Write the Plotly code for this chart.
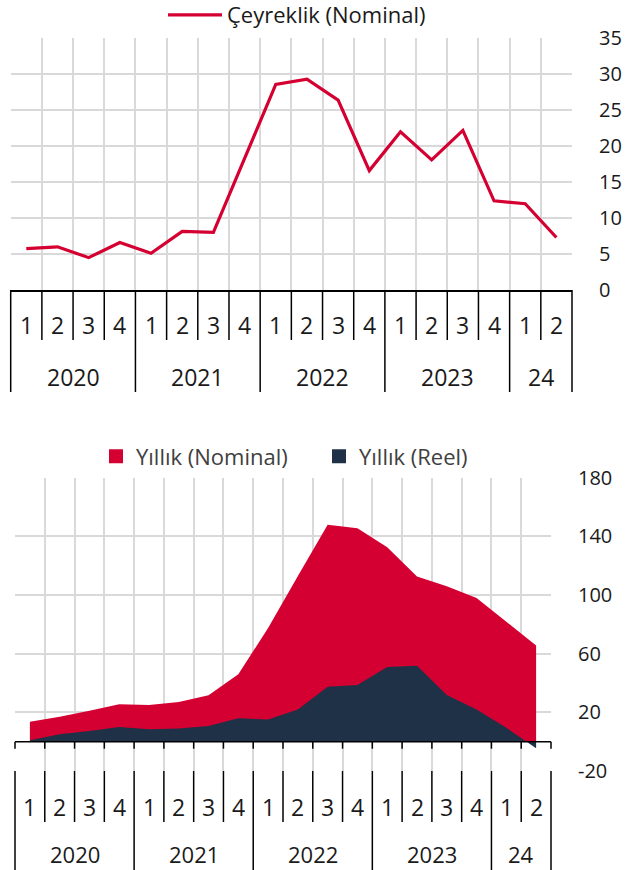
import plotly.graph_objects as go

W, H = 636, 870

# ---------------- data ----------------
years = ["2020", "2021", "2022", "2023", "24"]
quarters_per_year = [4, 4, 4, 4, 2]
quarter_labels = ["1", "2", "3", "4", "1", "2", "3", "4", "1", "2", "3", "4",
                  "1", "2", "3", "4", "1", "2"]
categories = []
_k = 0
for _y, _c in zip(years, quarters_per_year):
    for _j in range(_c):
        categories.append(f"{_y}-{quarter_labels[_k]}")
        _k += 1

ceyreklik_nominal = [5.75, 6.0, 4.5, 6.6, 5.1, 8.15, 8.0, 18.3, 28.6, 29.3,
                     26.4, 16.6, 22.0, 18.1, 22.2, 12.4, 12.0, 7.3]
yillik_nominal = [13.6, 17.0, 21.0, 25.5, 25.0, 27.0, 31.6, 46.0, 77.5, 113.0,
                  148.0, 145.5, 132.5, 112.7, 106.0, 98.0, 81.8, 65.5]
yillik_reel = [1.0, 5.0, 7.3, 10.0, 8.4, 8.9, 10.7, 15.9, 15.2, 22.0,
               37.5, 38.6, 51.0, 51.8, 31.8, 22.0, 9.5, -4.5]

top_ticks = [0, 5, 10, 15, 20, 25, 30, 35]
bottom_ticks = [-20, 20, 60, 100, 140, 180]
bottom_ticktext = ["-20", "20", "60", "100", "140", "180"]

# ---------------- style ----------------
RED = "#D50032"
NAVY = "#1E3146"
GRID = "#D9D9D9"
TXT = "#1A1A1A"
FONT = "Open Sans"


def py(p):
    return 1 - p / H


def px(p):
    return p / W


n = len(categories)

fig = go.Figure()

fig.add_trace(go.Scatter(
    x=categories, y=ceyreklik_nominal, mode="lines",
    line=dict(color=RED, width=3.2), name="Çeyreklik (Nominal)",
    xaxis="x", yaxis="y", legend="legend"))

fig.add_trace(go.Scatter(
    x=categories, y=yillik_nominal, mode="none", fill="tozeroy",
    fillcolor=RED, name="Yıllık (Nominal)", showlegend=False,
    xaxis="x2", yaxis="y2"))
fig.add_trace(go.Scatter(
    x=categories, y=yillik_reel, mode="none", fill="tozeroy",
    fillcolor=NAVY, name="Yıllık (Reel)", showlegend=False,
    xaxis="x2", yaxis="y2"))

# legend proxies (square swatches)
for nm, col in [("Yıllık (Nominal)", RED), ("Yıllık (Reel)", NAVY)]:
    fig.add_trace(go.Scatter(
        x=[None], y=[None], mode="markers",
        marker=dict(symbol="square", size=14, color=col),
        name=nm, xaxis="x2", yaxis="y2", legend="legend2"))

common_x = dict(type="category", range=[-0.5, n - 0.5], tickson="boundaries",
                showgrid=True, gridcolor=GRID, gridwidth=1.5,
                showticklabels=False, ticks="", zeroline=False, automargin=False,
                categoryorder="array", categoryarray=categories)

fig.update_layout(
    template="none",
    width=W, height=H,
    margin=dict(l=0, r=0, t=0, b=0, pad=0, autoexpand=False),
    paper_bgcolor="white", plot_bgcolor="white",
    font=dict(family=FONT, color=TXT),
    xaxis=dict(domain=[px(10.7), px(572)], anchor="y",
               showline=True, linecolor="black", linewidth=1.5, **common_x),
    yaxis=dict(domain=[py(290), py(38.3)], anchor="x", side="right",
               range=[0, 35], tickvals=top_ticks, showgrid=True,
               gridcolor=GRID, gridwidth=1.5, zeroline=False, showline=False,
               automargin=False,
               ticks="outside", ticklen=22, tickcolor="rgba(0,0,0,0)",
               tickfont=dict(size=20, color=TXT, family=FONT)),
    xaxis2=dict(domain=[px(15), px(551)], anchor="y2",
                showline=False, **common_x),
    yaxis2=dict(domain=[py(771), py(477.7)], anchor="x2", side="right",
                range=[-20, 180], tickvals=bottom_ticks, ticktext=bottom_ticktext,
                showgrid=True,
                gridcolor=GRID, gridwidth=1.5, zeroline=False, showline=False,
                automargin=False,
                ticks="outside", ticklen=22, tickcolor="rgba(0,0,0,0)",
                tickfont=dict(size=20, color=TXT, family=FONT)),
    legend=dict(orientation="h", x=px(163), xanchor="left", y=py(15),
                yanchor="middle", itemwidth=54, bgcolor="rgba(0,0,0,0)",
                borderwidth=0,
                font=dict(size=22, color=TXT, family=FONT)),
    legend2=dict(orientation="h", x=px(96), xanchor="left", y=py(456.5),
                 yanchor="middle", bgcolor="rgba(0,0,0,0)", borderwidth=0,
                 entrywidth=178,
                 font=dict(size=22, color="#404040", family=FONT)),
    showlegend=True,
)

# ---------------- category axis decorations ----------------
year_bounds = [0]
for c in quarters_per_year:
    year_bounds.append(year_bounds[-1] + c)

shapes = []
annotations = []


def category_axis(xd, yd, q_len, y_len, q_shift, y_shift, y_size):
    for i in range(n + 1):
        L = y_len if i in year_bounds else q_len
        shapes.append(dict(type="line", xref=xd, yref=yd, x0=i / n, x1=i / n,
                           ysizemode="pixel", yanchor=0, y0=0, y1=-L,
                           line=dict(color="black", width=1.5), layer="above"))
    for i, q in enumerate(quarter_labels):
        annotations.append(dict(text=q, xref=xd, yref=yd, x=(i + 0.5) / n, y=0,
                                yshift=q_shift, xanchor="center", yanchor="middle",
                                showarrow=False,
                                font=dict(size=23, color=TXT, family=FONT)))
    for k, yr in enumerate(years):
        c = (year_bounds[k] + year_bounds[k + 1]) / 2
        annotations.append(dict(text=yr, xref=xd, yref=yd, x=c / n, y=0,
                                yshift=y_shift, xanchor="center", yanchor="middle",
                                showarrow=False,
                                font=dict(size=y_size, color=TXT, family=FONT)))


category_axis("x domain", "y domain", 50, 102, -35, -87, 23)
category_axis("x2 domain", "y2 domain", 51, 100, -36, -83, 22)

# zero line and small ticks on bottom chart
shapes.append(dict(type="line", xref="x2 domain", yref="y2", x0=0, x1=1, y0=0, y1=0,
                   line=dict(color="black", width=1.5), layer="above"))
for i in range(n + 1):
    shapes.append(dict(type="line", xref="x2 domain", yref="y2", x0=i / n, x1=i / n,
                       ysizemode="pixel", yanchor=0, y0=0, y1=-7,
                       line=dict(color="black", width=1.5), layer="above"))

fig.update_layout(shapes=shapes, annotations=annotations)

fig.write_html("out.html",
               config={"displayModeBar": False},
               post_script="document.body.style.margin='0';")
